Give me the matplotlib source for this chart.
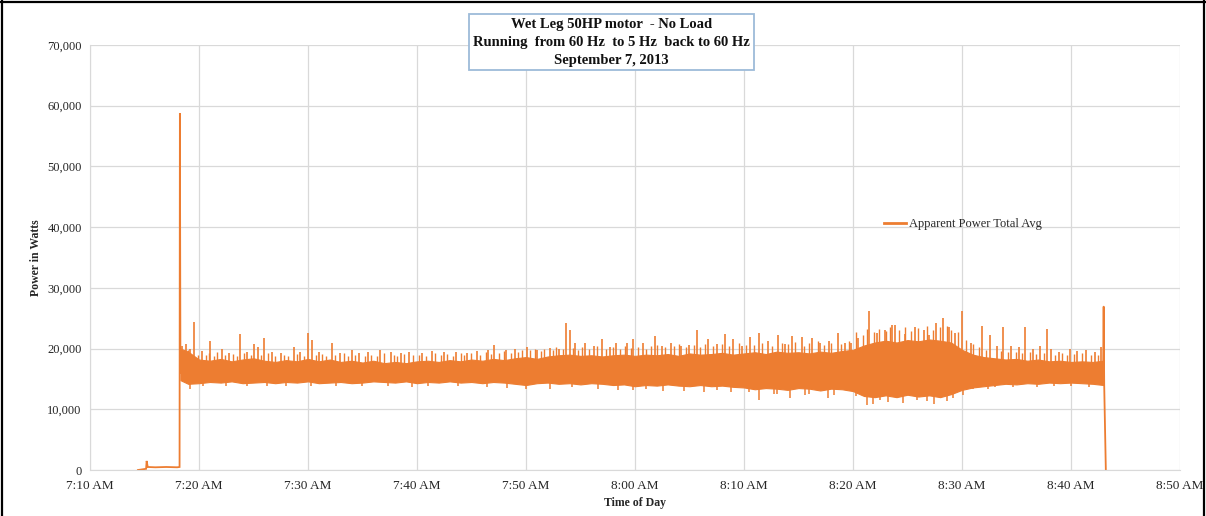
import matplotlib
matplotlib.use("Agg")
import matplotlib.pyplot as plt
from matplotlib.lines import Line2D

# time axis is minutes after 7:00 AM
x_ticks = [10, 20, 30, 40, 50, 60, 70, 80, 90, 100, 110]
x_labels = ["7:10 AM", "7:20 AM", "7:30 AM", "7:40 AM", "7:50 AM", "8:00 AM",
            "8:10 AM", "8:20 AM", "8:30 AM", "8:40 AM", "8:50 AM"]
y_ticks = [0, 10000, 20000, 30000, 40000, 50000, 60000, 70000]

# motor idle before start, then inrush spike
start_min = [14.4, 15.15, 15.2, 15.3, 16.0, 17.0, 18.0, 18.22, 18.25, 18.3]
start_watts = [0, 200, 1500, 500, 450, 500, 450, 500, 58800, 16000]

# dense running signal, read as a core band per minute
band_min = [18.3, 19, 20, 21, 22, 23, 24, 25, 26, 27, 28, 29, 30, 31, 32, 33, 34, 35,
            36, 37, 38, 39, 40, 41, 42, 43, 44, 45, 46, 47, 48, 49, 50, 51, 52, 53,
            54, 55, 56, 57, 58, 59, 60, 61, 62, 63, 64, 65, 66, 67, 68, 69, 70, 71,
            72, 73, 74, 75, 76, 77, 78, 79, 80, 81, 82, 83, 84, 85, 86, 87, 88, 89,
            90, 91, 92, 93, 94, 95, 96, 97, 98, 99, 100, 101, 102, 103.0]
band_lo = [14800, 14200, 14300, 14500, 14400, 14600, 14300, 14400, 14500, 14300, 14500,
           14400, 14600, 14300, 14400, 14500, 14300, 14400, 14600, 14500, 14400, 14600,
           14300, 14500, 14400, 14600, 14400, 14500, 14300, 14500, 14400, 14200, 14000,
           14300, 14400, 14200, 14300, 14100, 14300, 14200, 14000, 14100, 13800, 14000,
           13900, 14100, 13900, 13800, 14000, 13800, 13900, 13700, 13600, 13300, 13500,
           13400, 13200, 13500, 13400, 13100, 13400, 13300, 13000, 12200, 12000, 12300,
           12000, 12400, 12100, 12300, 12000, 12500, 13200, 13600, 13800, 14000, 14200,
           14100, 14300, 14200, 14400, 14300, 14400, 14300, 14200, 14000]
band_hi = [20000, 19500, 18200, 18000, 18300, 17900, 18200, 18400, 18000, 17800, 18100,
           17900, 18300, 17900, 18200, 17800, 18000, 17700, 18000, 17600, 17800, 17600,
           17900, 18000, 17800, 18100, 17900, 18200, 18000, 18300, 18100, 18400, 18600,
           18300, 18700, 18900, 19000, 18800, 18900, 18700, 18900, 19000, 18800, 19000,
           18900, 19100, 18800, 19200, 19000, 19100, 19300, 19000, 19200, 19400, 19100,
           19500, 19300, 19400, 19200, 19500, 19300, 19600, 19800, 20500, 21000, 21300,
           21000, 21400, 21200, 21500, 21300, 21000, 19800, 19000, 18600, 18400, 18200,
           18300, 18000, 18200, 17900, 18000, 17800, 17900, 17800, 18000]

# tall individual peaks above the band
spike_min = [18.4, 18.8, 19.2, 19.57, 20.3, 21.05, 22.1, 22.8, 23.8, 24.4, 25.05, 25.4,
             26.0, 26.7, 27.5, 28.7, 29.3, 30.0, 30.4, 31.0, 32.2, 32.9, 34.0, 34.7,
             35.5, 36.6, 37.6, 38.5, 39.3, 40.5, 41.4, 42.5, 43.6, 44.6, 45.5, 46.5,
             47.1, 48.2, 49.0, 50.1, 51.0, 52.2, 53.0, 53.7, 54.0, 54.5, 55.4, 56.2,
             57.0, 57.7, 58.3, 59.3, 59.8, 60.7, 61.8, 62.5, 63.3, 64.2, 65.0, 65.7,
             66.7, 67.5, 68.3, 69.0, 69.8, 70.6, 71.4, 72.2, 73.1, 73.8, 74.4, 75.3,
             76.2, 77.0, 77.8, 78.6, 79.3, 79.8, 80.5, 81.5, 82.2, 82.9, 83.6, 83.9,
             84.8, 85.7, 86.5, 87.0, 87.6, 88.3, 88.8, 89.4, 90.0, 90.8, 91.8, 92.6,
             93.2, 93.8, 94.5, 95.2, 95.8, 96.5, 97.2, 97.8, 98.2, 98.9, 99.9, 100.6,
             101.4, 102.2, 102.8]
spike_watts = [20500, 20800, 20000, 24400, 19600, 21300, 19900, 19300, 22400, 19500, 20700,
               20300, 21700, 19400, 19200, 20300, 19500, 22500, 21400, 19400, 21000, 19300,
               19800, 19200, 19500, 19700, 19500, 19200, 19500, 19300, 19600, 19400, 19500,
               19300, 19600, 19700, 20600, 19800, 20000, 20300, 19700, 20100, 19900, 24200,
               23000, 21000, 20900, 20400, 21500, 20200, 20900, 21000, 21500, 21000, 22100,
               20400, 21000, 20500, 20600, 23100, 21500, 20700, 22400, 21500, 20500, 21900,
               22500, 21300, 22200, 20800, 22000, 21900, 21800, 20900, 21200, 22600, 21000,
               21000, 21800, 26200, 22600, 23000, 23900, 23900, 22400, 23600, 23000, 22300,
               24200, 25000, 23600, 22500, 26200, 21000, 23700, 22200, 20500, 23500, 20400,
               20300, 23500, 20000, 20400, 23200, 20000, 19500, 20000, 19600, 19800, 19500,
               20200]

# short ripple peaks along the top of the band
ripple_min = [18.6, 19.0, 19.4, 19.9, 20.6, 20.9, 21.4, 21.7, 22.4, 23.1, 23.5, 24.1,
              24.8, 25.7, 26.3, 27.0, 27.8, 28.2, 29.0, 29.6, 30.7, 31.3, 31.7, 32.5,
              33.3, 33.7, 34.3, 35.2, 35.8, 36.3, 37.0, 37.9, 38.2, 38.8, 39.6, 40.2,
              40.8, 41.7, 42.2, 42.8, 43.3, 44.0, 44.3, 45.0, 45.8, 46.3, 46.8, 47.5,
              48.0, 48.6, 49.3, 49.6, 50.4, 50.8, 51.4, 51.7, 52.5, 52.8, 53.4, 54.3,
              54.8, 55.1, 55.8, 56.5, 57.3, 58.0, 58.6, 59.1, 59.6, 60.3, 61.0, 61.5,
              62.0, 62.8, 63.6, 64.0, 64.7, 65.4, 66.0, 66.4, 67.2, 68.0, 68.6, 69.5,
              70.2, 70.9, 71.7, 72.6, 73.5, 74.0, 74.7, 75.5, 76.0, 76.8, 77.3, 78.0,
              78.9, 79.6, 80.3, 80.9, 81.3, 81.9, 82.4, 83.0, 83.4, 84.2, 84.8, 85.3,
              86.0, 86.8, 87.3, 88.0, 88.6, 89.0, 89.6, 90.4, 91.0, 91.6, 92.2, 93.6,
              94.2, 95.0, 95.5, 96.2, 96.8, 97.5, 98.5, 99.2, 99.6, 100.3, 101.0, 101.8,
              102.5]
ripple_watts = [19200, 19800, 18900, 19000, 18900, 19300, 18800, 19400, 18900, 19100, 18700,
                19200, 18900, 19000, 19300, 18800, 19000, 18700, 19100, 18800, 18900, 19100,
                18700, 18900, 19200, 18800, 19000, 18700, 19000, 18800, 19200, 18900, 18700,
                19100, 18900, 19000, 18700, 19200, 18900, 19100, 18800, 19300, 19000, 19200,
                18900, 19400, 19100, 19300, 19600, 19200, 19500, 19800, 19700, 19900, 19600,
                20000, 19800, 20200, 19900, 20100, 19800, 20300, 20000, 20400, 19900, 20200,
                20000, 20500, 20100, 20300, 20000, 20400, 20600, 20200, 20500, 20800, 20300,
                20600, 20200, 20700, 20400, 20800, 20500, 20900, 20600, 20600, 20900, 20400,
                21000, 20700, 21100, 20500, 20900, 21200, 20600, 21000, 20800, 21300, 22800,
                22300, 23200, 22800, 23300, 22900, 23500, 23100, 23600, 22900, 23400, 23700,
                23000, 23500, 23800, 23100, 22700, 21400, 20800, 20200, 19800, 19600, 19400,
                19500, 19200, 19400, 19100, 19300, 19000, 19300, 19000, 19100, 19200, 18900,
                19000]

# drops below the band
dip_min = [19.2, 20.4, 22.5, 24.4, 26.2, 28.0, 30.3, 32.6, 35.0, 37.3, 39.5, 41.0, 43.8,
           46.4, 48.3, 50.0, 52.2, 54.2, 56.6, 58.4, 59.8, 61.0, 62.6, 64.5, 66.3, 67.5,
           68.8, 70.5, 71.4, 72.8, 73.0, 74.2, 75.6, 76.0, 77.7, 78.3, 80.3, 81.3, 81.8,
           82.5, 83.2, 84.6, 85.9, 86.8, 87.4, 88.6, 89.2, 90.1, 91.0, 92.4, 93.0, 94.7,
           96.9, 98.4, 100.0, 101.7]
dip_watts = [13400, 13900, 13800, 13900, 13800, 13900, 13900, 13800, 13900, 13900, 13700,
             13800, 13800, 13700, 13500, 13300, 13400, 13600, 13300, 13200, 13200, 13400,
             13000, 13000, 12900, 13100, 12800, 12800, 11500, 12600, 12600, 11800, 12400,
             12500, 11900, 12300, 12200, 10700, 10900, 11500, 11200, 11000, 11600, 11300,
             10900, 11400, 11800, 12400, 13300, 13400, 13700, 13600, 13700, 13800, 13800,
             13700]

# shutdown: last peak then off
end_min = [102.95, 103.0, 103.05, 103.2]
end_watts = [16000, 26900, 14000, 0]

orange = "#ED7D31"
grid_c = "#D9D9D9"
txt_c = "#262626"

plt.rcParams["font.family"] = ["Liberation Serif", "DejaVu Serif"]

fig = plt.figure(figsize=(12.06, 5.16), dpi=100)
ax = fig.add_axes([0.0746, 0.0891, 0.9038, 0.8237])

ax.plot(start_min, start_watts, color=orange, lw=1.3, solid_joinstyle="miter")
ax.fill_between(band_min, band_lo, band_hi, color=orange, lw=0.8, edgecolor=orange)
ax.vlines(ripple_min, [15000] * len(ripple_min), ripple_watts, color=orange, lw=1.0)
ax.vlines(spike_min, [15000] * len(spike_min), spike_watts, color=orange, lw=1.2)
ax.vlines(dip_min, dip_watts, [16000] * len(dip_min), color=orange, lw=1.1)
ax.plot(end_min, end_watts, color=orange, lw=1.3)

ax.set_xlim(10, 110)
ax.set_ylim(0, 70000)
ax.set_xticks(x_ticks)
ax.set_xticklabels(x_labels)
ax.set_yticks(y_ticks)
ax.set_yticklabels([f"{v:,}" for v in y_ticks])
ax.grid(True, color=grid_c, lw=0.9)
ax.set_axisbelow(True)
for s in ["top", "right"]:
    ax.spines[s].set_visible(False)
for s in ["left", "bottom"]:
    ax.spines[s].set_color(grid_c)
ax.tick_params(axis="y", length=0, labelsize=9, labelcolor=txt_c, pad=6)
ax.tick_params(axis="x", length=0, labelsize=9.5, labelcolor=txt_c, pad=7)

ax.set_ylabel("Power in Watts", fontsize=8.5, fontweight="bold", color=txt_c, labelpad=4)
ax.set_xlabel("Time of Day", fontsize=8.5, fontweight="bold", color=txt_c, labelpad=4)

handle = Line2D([], [], color=orange, lw=2)
ax.legend([handle], ["Apparent Power Total Avg"], loc="center left",
          bbox_to_anchor=(0.718, 0.579), frameon=False, fontsize=9,
          handlelength=1.8, handletextpad=0.2, labelcolor=txt_c)

fig.text(0.507, 0.918, "Wet Leg 50HP motor  - No Load\nRunning  from 60 Hz  to 5 Hz  back to 60 Hz\nSeptember 7, 2013",
         ha="center", va="center", fontsize=10.5, fontweight="bold", color="#111111",
         linespacing=1.5,
         bbox=dict(boxstyle="square,pad=0.25", fc="white", ec="#9DBBD9", lw=1.3))

# black frame around the picture
for xs, ys in [([0.002, 0.002], [0, 1]), ([0, 1], [0.997, 0.997]), ([0.998, 0.998], [0, 1])]:
    fig.add_artist(Line2D(xs, ys, transform=fig.transFigure, color="black", lw=1.6))

fig.savefig("out.png", dpi=100)
